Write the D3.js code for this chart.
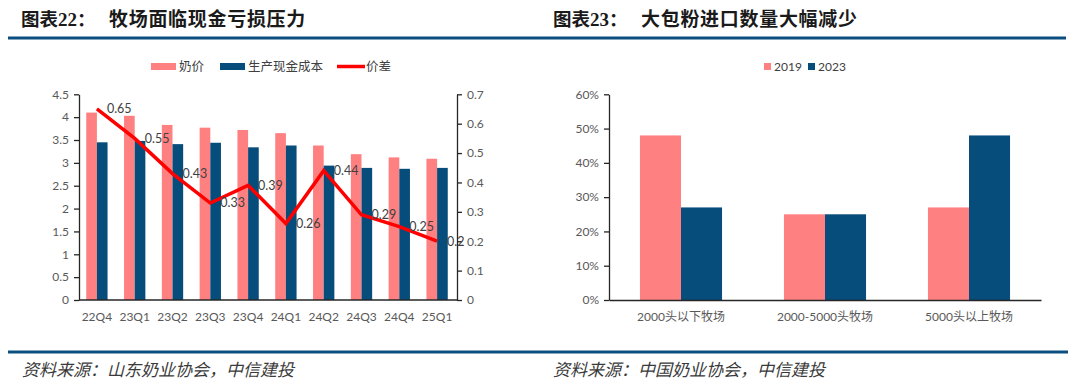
<!DOCTYPE html>
<html>
<head>
<meta charset="utf-8">
<script src="https://cdn.jsdelivr.net/npm/d3@7"></script>
<style>
  body { margin: 0; background: #fff; }
  svg { display: block; }
  .tick text { font-family: Lato, "Noto Sans CJK SC", sans-serif; font-size: 12px; fill: #595959; }
</style>
</head>
<body>
<svg id="chart" width="1080" height="389"></svg>
<script>
// left chart data
var quarters = ['22Q4', '23Q1', '23Q2', '23Q3', '23Q4', '24Q1', '24Q2', '24Q3', '24Q4', '25Q1'];
var milkPrice = [4.1, 4.03, 3.83, 3.77, 3.72, 3.65, 3.38, 3.19, 3.12, 3.09];
var cashCost = [3.45, 3.48, 3.41, 3.44, 3.34, 3.38, 2.94, 2.89, 2.87, 2.89];
var priceGap = [0.65, 0.55, 0.43, 0.33, 0.39, 0.26, 0.44, 0.29, 0.25, 0.2];
var leftTicks = [0, 0.5, 1, 1.5, 2, 2.5, 3, 3.5, 4, 4.5];
var rightTicks = [0, 0.1, 0.2, 0.3, 0.4, 0.5, 0.6, 0.7];
var leftLegend = ['奶价', '生产现金成本', '价差'];

// right chart data
var farmTypes = ['2000头以下牧场', '2000-5000头牧场', '5000头以上牧场'];
var share2019 = [0.48, 0.25, 0.27];
var share2023 = [0.27, 0.25, 0.48];
var shareTicks = [0, 0.1, 0.2, 0.3, 0.4, 0.5, 0.6];
var rightLegend = ['2019', '2023'];

var pink = '#ff8080';
var navy = '#074d7b';
var red = '#ff0000';
var ruleBlue = '#0b4f80';

var svg = d3.select('#chart');

// frame: titles, rules, sources
var drawTitle = function(x, num, text) {
  var t = svg.append('text').attr('x', x).attr('y', 26)
    .attr('font-weight', 'bold').attr('font-size', 18.5).attr('fill', '#1a1a1a')
    .attr('font-family', '"Noto Sans CJK SC", sans-serif');
  t.append('tspan').text('图表');
  t.append('tspan').attr('font-family', '"Liberation Serif", serif').attr('font-size', 19).text(num);
  t.append('tspan').text('：');
  svg.append('text').attr('x', x + 88).attr('y', 26)
    .attr('font-weight', 'bold').attr('font-size', 19).attr('fill', '#1a1a1a')
    .attr('letter-spacing', 0.7)
    .attr('font-family', '"Noto Sans CJK SC", sans-serif').text(text);
};
drawTitle(21, '22', '牧场面临现金亏损压力');
drawTitle(553, '23', '大包粉进口数量大幅减少');

svg.append('line').attr('x1', 8).attr('x2', 1066).attr('y1', 38).attr('y2', 38)
  .attr('stroke', ruleBlue).attr('stroke-width', 3);
svg.append('line').attr('x1', 8).attr('x2', 1068).attr('y1', 352).attr('y2', 352)
  .attr('stroke', ruleBlue).attr('stroke-width', 3);

var drawSource = function(x, text) {
  svg.append('text').attr('x', x).attr('y', 376)
    .attr('font-size', 17).attr('font-style', 'italic').attr('fill', '#3a3a3a')
    .attr('font-family', '"Noto Sans CJK SC", sans-serif').text(text);
};
drawSource(22, '资料来源：山东奶业协会，中信建投');
drawSource(553, '资料来源：中国奶业协会，中信建投');

var styleAxis = function(g) {
  g.select('.domain').attr('stroke', '#262626').attr('stroke-width', 1.3);
  g.selectAll('.tick line').attr('stroke', '#262626').attr('stroke-width', 1.3);
  g.selectAll('.tick text').attr('fill', '#595959');
};

// ---- left chart ----
var plotTop = 94.3, plotBottom = 300;
var x0 = d3.scaleBand().domain(quarters).range([78, 456]).paddingInner(0.436).paddingOuter(0.218);
var x1 = d3.scaleBand().domain([0, 1]).range([0, x0.bandwidth()]);
var yL = d3.scaleLinear().domain([0, 4.5]).range([plotBottom, plotTop]);
var yR = d3.scaleLinear().domain([0, 0.7]).range([plotBottom, plotTop]);

var left = svg.append('g');
left.selectAll('rect.milk').data(milkPrice).enter().append('rect')
  .attr('x', function(d, i) { return x0(quarters[i]) + x1(0); })
  .attr('y', function(d) { return yL(d); })
  .attr('width', x1.bandwidth())
  .attr('height', function(d) { return yL(0) - yL(d); })
  .attr('fill', pink);
left.selectAll('rect.cost').data(cashCost).enter().append('rect')
  .attr('x', function(d, i) { return x0(quarters[i]) + x1(1); })
  .attr('y', function(d) { return yL(d); })
  .attr('width', x1.bandwidth())
  .attr('height', function(d) { return yL(0) - yL(d); })
  .attr('fill', navy);

var gl = left.append('g').attr('transform', 'translate(79,0)')
  .call(d3.axisLeft(yL).tickValues(leftTicks).tickFormat(d3.format('')).tickSize(5).tickSizeOuter(0).tickPadding(5));
styleAxis(gl);
var gr = left.append('g').attr('transform', 'translate(457,0)')
  .call(d3.axisRight(yR).tickValues(rightTicks).tickFormat(d3.format('')).tickSize(5).tickSizeOuter(0).tickPadding(5));
styleAxis(gr);
var gb = left.append('g').attr('transform', 'translate(0,' + plotBottom + ')')
  .call(d3.axisBottom(x0).tickSize(0).tickSizeOuter(0).tickPadding(12));
gb.select('.domain').attr('d', 'M79,0H457');
styleAxis(gb);

var gapX = function(i) { return x0(quarters[i]) + x0.bandwidth() / 2; };
var line = d3.line().x(function(d, i) { return gapX(i); }).y(function(d) { return yR(d); });
left.append('path').datum(priceGap).attr('d', line)
  .attr('fill', 'none').attr('stroke', red).attr('stroke-width', 3.5).attr('stroke-linejoin', 'miter');
left.selectAll('text.gap').data(priceGap).enter().append('text')
  .attr('x', function(d, i) { return gapX(i) + 10; })
  .attr('y', function(d) { return yR(d); })
  .attr('dy', '0.35em')
  .attr('font-family', 'Lato, sans-serif').attr('font-size', 12.5).attr('fill', '#404040')
  .text(function(d) { return d; });

// left legend
var lg = left.append('g').attr('font-family', '"Noto Sans CJK SC", sans-serif').attr('font-size', 12.5).attr('fill', '#404040');
var legendX = [151, 220, 337];
lg.append('rect').attr('x', legendX[0]).attr('y', 63).attr('width', 25).attr('height', 7).attr('fill', pink);
lg.append('rect').attr('x', legendX[1]).attr('y', 63).attr('width', 25).attr('height', 7).attr('fill', navy);
lg.append('line').attr('x1', legendX[2]).attr('x2', legendX[2] + 28).attr('y1', 66.5).attr('y2', 66.5)
  .attr('stroke', red).attr('stroke-width', 3.5);
lg.selectAll('text').data(leftLegend).enter().append('text')
  .attr('x', function(d, i) { return legendX[i] + (i == 2 ? 29 : 28); })
  .attr('y', 71).text(function(d) { return d; });

// ---- right chart ----
var xa = d3.scaleBand().domain(farmTypes).range([609, 1041]).paddingInner(0.43).paddingOuter(0.215);
var xb = d3.scaleBand().domain([0, 1]).range([0, xa.bandwidth()]);
var yS = d3.scaleLinear().domain([0, 0.6]).range([plotBottom, plotTop]);

var right = svg.append('g');
right.selectAll('rect.y19').data(share2019).enter().append('rect')
  .attr('x', function(d, i) { return xa(farmTypes[i]) + xb(0); })
  .attr('y', function(d) { return yS(d); })
  .attr('width', xb.bandwidth())
  .attr('height', function(d) { return yS(0) - yS(d); })
  .attr('fill', pink);
right.selectAll('rect.y23').data(share2023).enter().append('rect')
  .attr('x', function(d, i) { return xa(farmTypes[i]) + xb(1); })
  .attr('y', function(d) { return yS(d); })
  .attr('width', xb.bandwidth())
  .attr('height', function(d) { return yS(0) - yS(d); })
  .attr('fill', navy);

var gs = right.append('g').attr('transform', 'translate(609,0)')
  .call(d3.axisLeft(yS).tickValues(shareTicks).tickFormat(d3.format('.0%')).tickSize(5).tickSizeOuter(0).tickPadding(5));
styleAxis(gs);
var gsb = right.append('g').attr('transform', 'translate(0,' + plotBottom + ')')
  .call(d3.axisBottom(xa).tickSize(0).tickSizeOuter(0).tickPadding(12));
styleAxis(gsb);

var rg = right.append('g').attr('font-family', 'Lato, sans-serif').attr('font-size', 12).attr('fill', '#404040');
var rlX = [764, 808];
rg.selectAll('rect').data(rightLegend).enter().append('rect')
  .attr('x', function(d, i) { return rlX[i]; }).attr('y', 63)
  .attr('width', 7).attr('height', 7)
  .attr('fill', function(d, i) { return i == 0 ? pink : navy; });
rg.selectAll('text').data(rightLegend).enter().append('text')
  .attr('x', function(d, i) { return rlX[i] + 10; }).attr('y', 71)
  .text(function(d) { return d; });
</script>
</body>
</html>
